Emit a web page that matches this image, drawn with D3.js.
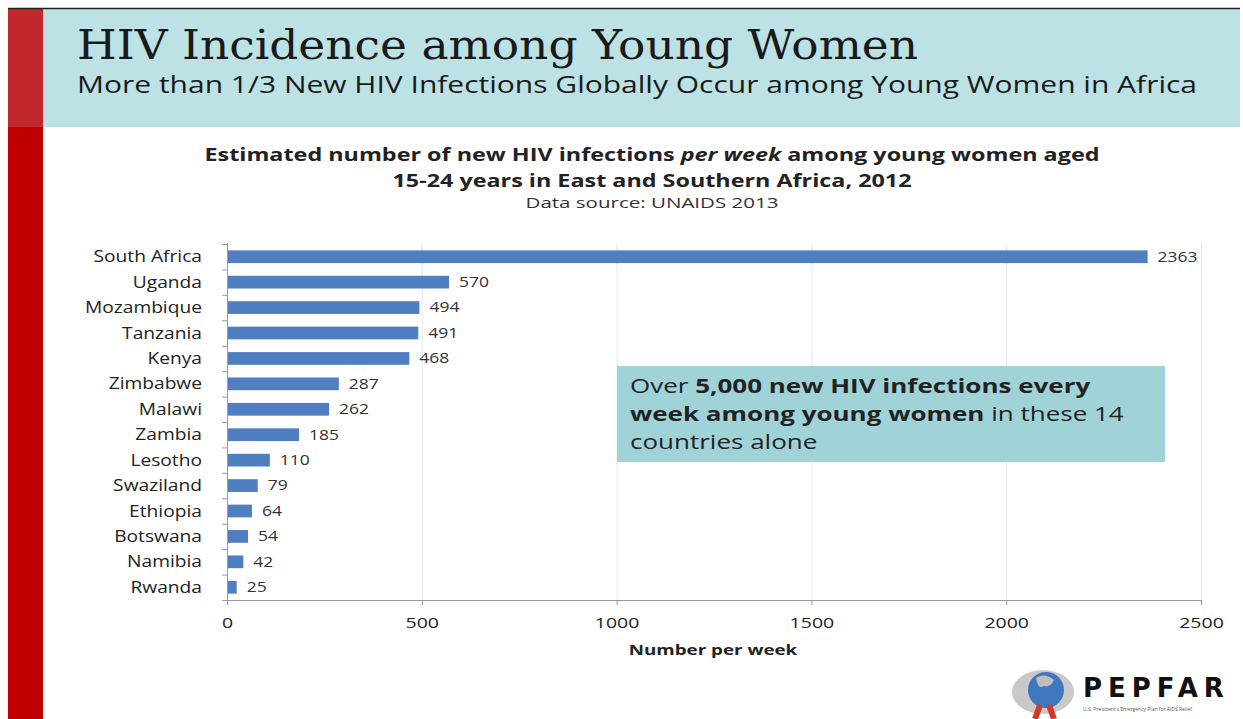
<!DOCTYPE html>
<html>
<head>
<meta charset="utf-8">
<script src="https://cdn.jsdelivr.net/npm/d3@7"></script>
<style>
  body { margin: 0; background: #fff; }
  svg { display: block; }
  text { font-family: "Open Sans", "Noto Sans", sans-serif; fill: #222; }
</style>
</head>
<body>
<svg id="chart" width="1243" height="719"></svg>
<script>
// data
const countries = ["South Africa", "Uganda", "Mozambique", "Tanzania", "Kenya", "Zimbabwe",
  "Malawi", "Zambia", "Lesotho", "Swaziland", "Ethiopia", "Botswana", "Namibia", "Rwanda"];
const infectionsPerWeek = [2363, 570, 494, 491, 468, 287, 262, 185, 110, 79, 64, 54, 42, 25];
const xTicks = [0, 500, 1000, 1500, 2000, 2500];

const svg = d3.select("#chart");
const W = 1243, H = 719;

// the slide text is wider than Open Sans, so stretch it sideways
function stretch(sel, sx) {
  sel.each(function() {
    const t = d3.select(this);
    const x = +t.attr("x") || 0, y = +t.attr("y") || 0;
    t.attr("x", 0).attr("y", 0).attr("transform", `translate(${x},${y}) scale(${sx},1)`);
  });
}

// slide frame: red stripe, teal header, thin dark top rule
svg.append("rect").attr("x", 8).attr("y", 9).attr("width", 35).attr("height", 118).attr("fill", "#c2272d");
svg.append("rect").attr("x", 8).attr("y", 127).attr("width", 35).attr("height", H - 127).attr("fill", "#c00000");
svg.append("rect").attr("x", 43).attr("y", 9).attr("width", W - 46).attr("height", 118).attr("fill", "#bde2e5");
svg.append("line").attr("x1", 8).attr("x2", W - 3).attr("y1", 8.5).attr("y2", 8.5).attr("stroke", "#222").attr("stroke-width", 1.5);

svg.append("text")
  .attr("x", 77).attr("y", 59)
  .attr("textLength", 841).attr("lengthAdjust", "spacingAndGlyphs")
  .style("font-family", "'DejaVu Serif', serif")
  .style("font-size", "41px")
  .style("fill", "#1a1a1a")
  .text("HIV Incidence among Young Women");

svg.append("text")
  .attr("x", 77).attr("y", 93)
  .attr("textLength", 1120).attr("lengthAdjust", "spacingAndGlyphs")
  .style("font-size", "23px")
  .style("fill", "#1a1a1a")
  .text("More than 1/3 New HIV Infections Globally Occur among Young Women in Africa");

// chart titles
const cx = 652;
const t1 = svg.append("text").attr("x", cx).attr("y", 161).attr("text-anchor", "middle")
  .attr("textLength", 895).attr("lengthAdjust", "spacingAndGlyphs")
  .style("font-size", "18px").style("font-weight", "bold");
t1.append("tspan").text("Estimated number of new HIV infections ");
t1.append("tspan").style("font-style", "italic").text("per week");
t1.append("tspan").text(" among young women aged");
svg.append("text").attr("x", cx).attr("y", 187).attr("text-anchor", "middle")
  .attr("textLength", 519).attr("lengthAdjust", "spacingAndGlyphs")
  .style("font-size", "18px").style("font-weight", "bold")
  .text("15-24 years in East and Southern Africa, 2012");
svg.append("text").attr("x", cx).attr("y", 208).attr("text-anchor", "middle")
  .attr("textLength", 253).attr("lengthAdjust", "spacingAndGlyphs")
  .style("font-size", "14px").style("fill", "#333")
  .text("Data source:  UNAIDS 2013");

// scales
const x = d3.scaleLinear().domain([0, 2500]).range([227, 1201]);
const y = d3.scaleBand().domain(countries).range([244, 600]).paddingInner(0.5).paddingOuter(0.25);

// gridlines
svg.append("g")
  .selectAll("line")
  .data(xTicks.slice(1))
  .join("line")
  .attr("x1", d => x(d) + 0.5).attr("x2", d => x(d) + 0.5)
  .attr("y1", 244).attr("y2", 600)
  .attr("stroke", "#e3e6ee").attr("stroke-width", 1);

// bars
svg.append("g")
  .selectAll("rect")
  .data(countries)
  .join("rect")
  .attr("x", x(0))
  .attr("y", d => y(d))
  .attr("width", (d, i) => x(infectionsPerWeek[i]) - x(0))
  .attr("height", y.bandwidth())
  .attr("fill", "#4f7fc0");

// value labels
svg.append("g")
  .selectAll("text")
  .data(countries)
  .join("text")
  .attr("x", (d, i) => x(infectionsPerWeek[i]) + 10)
  .attr("y", d => y(d) + y.bandwidth() / 2)
  .attr("dy", "0.35em")
  .style("font-size", "14px")
  .style("fill", "#333")
  .text((d, i) => infectionsPerWeek[i])
  .call(stretch, 1.25);

// bottom axis
const xAxis = svg.append("g")
  .attr("transform", "translate(0,600)")
  .call(d3.axisBottom(x).tickValues(xTicks).tickSize(5).tickPadding(12).tickFormat(d3.format("d")));
xAxis.select(".domain").attr("stroke", "#9a9a9a");
xAxis.selectAll(".tick line").attr("stroke", "#9a9a9a");
xAxis.selectAll("text").style("font-size", "15px").style("fill", "#222")
  .style("font-family", "'Open Sans', sans-serif")
  .call(stretch, 1.3);

// left axis: line with ticks at category boundaries
const left = svg.append("g");
left.append("line").attr("x1", 227.5).attr("x2", 227.5).attr("y1", 243).attr("y2", 605)
  .attr("stroke", "#9a9a9a");
left.selectAll("line.tk")
  .data(d3.range(countries.length + 1))
  .join("line")
  .attr("class", "tk")
  .attr("x1", 222).attr("x2", 227.5)
  .attr("y1", i => 244 + i * y.step() + 0.5)
  .attr("y2", i => 244 + i * y.step() + 0.5)
  .attr("stroke", "#9a9a9a");
left.selectAll("text")
  .data(countries)
  .join("text")
  .attr("x", 202)
  .attr("y", d => y(d) + y.bandwidth() / 2)
  .attr("dy", "0.35em")
  .attr("text-anchor", "end")
  .style("font-size", "16px")
  .text(d => d)
  .call(stretch, 1.2);

svg.append("text").attr("x", 713).attr("y", 655).attr("text-anchor", "middle")
  .style("font-size", "15px").style("font-weight", "bold")
  .text("Number per week")
  .call(stretch, 1.25);

// callout box
svg.append("rect").attr("x", 617).attr("y", 366).attr("width", 548).attr("height", 96)
  .attr("fill", "#9fd3d8");
const callout = [
  [["Over ", false], ["5,000 new HIV infections every", true]],
  [["week among young women", true], [" in these 14", false]],
  [["countries alone", false]]
];
callout.forEach((line, i) => {
  const t = svg.append("text").attr("x", 630).attr("y", 393 + i * 28)
    .style("font-size", "20px").style("fill", "#222");
  line.forEach(([s, b]) => t.append("tspan").style("font-weight", b ? "bold" : "normal").text(s));
  stretch(t, 1.3);
});

// PEPFAR mark
const logo = svg.append("g");
logo.append("ellipse").attr("cx", 1043).attr("cy", 692).attr("rx", 31).attr("ry", 22).attr("fill", "#c9c9c9");
logo.append("circle").attr("cx", 1046).attr("cy", 690).attr("r", 18).attr("fill", "#3f78c0");
logo.append("path").attr("d", "M1036,678 q8,-6 18,2 q-4,8 -10,6 q-6,4 -8,-8z").attr("fill", "#bfbfbf");
logo.append("path").attr("d", "M1040,705 l-5,14 M1049,705 l5,14").attr("stroke", "#d33a2a").attr("stroke-width", 6);
logo.append("text").attr("x", 1083).attr("y", 697)
  .style("font-size", "26px").style("font-weight", "bold").style("letter-spacing", "6px").style("fill", "#111")
  .style("font-family", "'DejaVu Sans', sans-serif")
  .text("PEPFAR");
logo.append("text").attr("x", 1083).attr("y", 711)
  .style("font-size", "5px").style("fill", "#555")
  .text("U.S. President's Emergency Plan for AIDS Relief");
</script>
</body>
</html>
